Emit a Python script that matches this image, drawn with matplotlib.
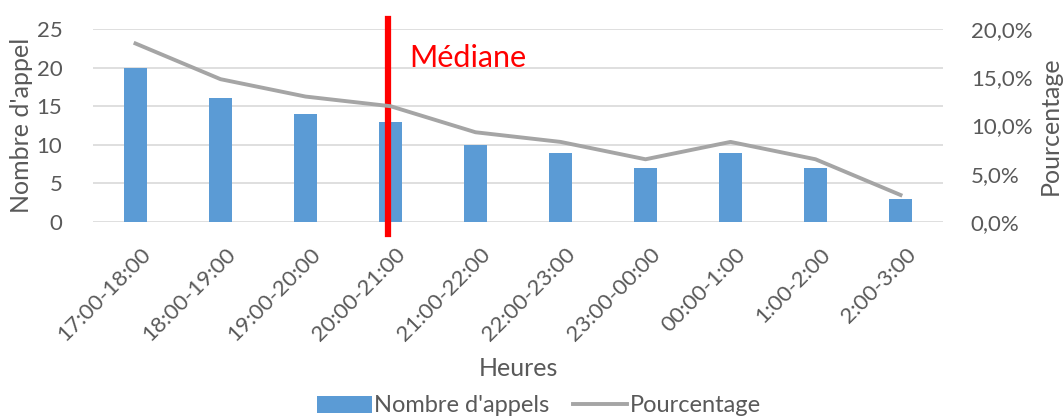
import matplotlib
matplotlib.use("Agg")
import matplotlib.pyplot as plt
from matplotlib.ticker import FuncFormatter
from matplotlib.transforms import ScaledTranslation

plt.rcParams['font.family'] = ['Lato', 'DejaVu Sans']

categories = ["17:00-18:00", "18:00-19:00", "19:00-20:00", "20:00-21:00", "21:00-22:00",
              "22:00-23:00", "23:00-00:00", "00:00-1:00", "1:00-2:00", "2:00-3:00"]
appels = [20, 16, 14, 13, 10, 9, 7, 9, 7, 3]
pourcentage = [18.5, 14.8, 13.0, 12.0, 9.3, 8.3, 6.5, 8.3, 6.5, 2.8]
mediane_pos = 2.97

txt = '#595959'
fig = plt.figure(figsize=(10.64, 4.17), dpi=100)
ax = fig.add_axes([93/1064, 1-222/417, 850/1064, 193/417])
ax2 = ax.twinx()
x = list(range(len(categories)))

ax.bar(x, appels, width=0.27, color='#5b9bd5', zorder=3, label="Nombre d'appels")
ax2.plot(x, pourcentage, color='#a5a5a5', lw=2.8, zorder=3, label='Pourcentage')

ax.set_xlim(-0.5, len(categories) - 0.5)
ax.set_ylim(0, 25)
ax2.set_ylim(0, 20)
ax.set_yticks([0, 5, 10, 15, 20, 25])
ax2.set_yticks([0, 5, 10, 15, 20])
ax2.yaxis.set_major_formatter(FuncFormatter(lambda v, p: f"{v:.1f}%".replace('.', ',')))
ax.grid(axis='y', color='#d9d9d9', lw=1.2, zorder=0)
ax.set_axisbelow(True)
for a in (ax, ax2):
    for s in a.spines.values():
        s.set_visible(False)
    a.tick_params(length=0, labelsize=16, colors=txt)
ax.tick_params(axis='y', pad=22)
ax2.tick_params(axis='y', pad=20)
ax.set_xticks(x)
ax.set_xticklabels(categories, rotation=45, ha='right', rotation_mode='anchor')
ax.tick_params(axis='x', pad=16, labelsize=16)
for lab in ax.get_xticklabels():
    lab.set_transform(lab.get_transform() + ScaledTranslation(5/100, 0, fig.dpi_scale_trans))

ax.set_ylabel("Nombre d'appel", fontsize=18, color=txt)
ax.yaxis.set_label_coords((22 - 93) / 850, 0.5)
ax2.set_ylabel("Pourcentage", fontsize=18, color=txt, rotation=90)
ax2.yaxis.set_label_coords((1050 - 93) / 850, 0.5)
ax.set_xlabel("Heures", fontsize=18, color=txt)
ax.xaxis.set_label_coords(0.5, (222 - 368) / 193)
ax.xaxis.label.set_va('center')
ax.yaxis.label.set_va('center')
ax2.yaxis.label.set_va('center')

# median line (extends beyond plot area)
ax.plot([mediane_pos, mediane_pos], [-1.6, 26.3], color='#ff0000', lw=4.5, zorder=5, clip_on=False)
ax.text(mediane_pos + 0.25, 21.3, "Médiane", color='#ff0000', fontsize=22, va='center', ha='left', zorder=6)

h1, l1 = ax.get_legend_handles_labels()
h2, l2 = ax2.get_legend_handles_labels()
fig.legend(h1 + h2, l1 + l2, loc='center', bbox_to_anchor=(539/1064, 1-406/417), ncol=2, frameon=False,
           fontsize=17, labelcolor=txt, handlelength=2.3, handletextpad=0.1, columnspacing=1.0,
           borderaxespad=0)

fig.savefig("out.png", dpi=100)
